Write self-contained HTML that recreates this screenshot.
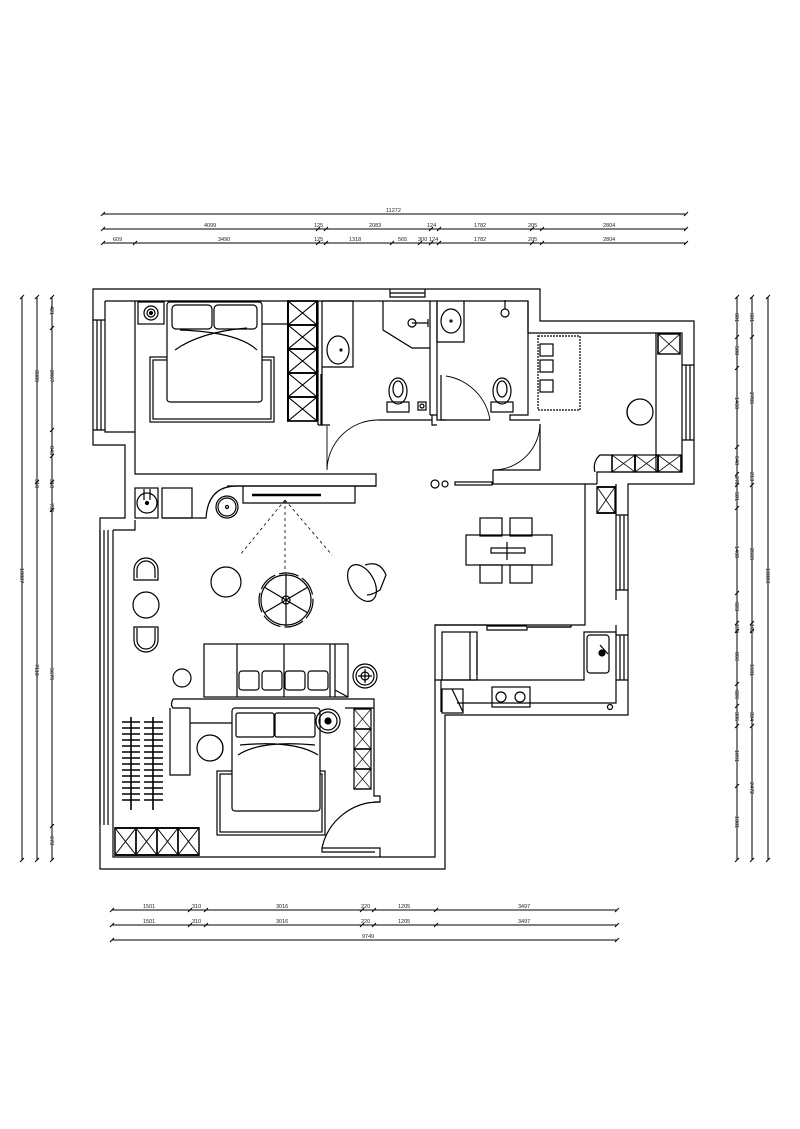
<!DOCTYPE html>
<html><head><meta charset="utf-8"><style>
html,body{margin:0;padding:0;background:#fff}
svg{display:block}
text{font-family:"Liberation Sans",sans-serif;font-size:5.5px;fill:#222}
</style></head><body>
<svg width="800" height="1129" viewBox="0 0 800 1129" xmlns="http://www.w3.org/2000/svg">
<defs>
<g id="xb"><rect x="0" y="0" width="20" height="20" fill="none" stroke="#000" stroke-width="1.4"/><path d="M0 0L20 20M20 0L0 20" stroke="#000" stroke-width="0.8"/></g>
</defs>
<g stroke="#000" fill="none" stroke-width="1">
<path d="M103 214H686M103 229H686M103 243H686"/>
<path d="M101 216l4-4M684 216l4-4M101 231l4-4M316 231l4-4M324 231l4-4M429 231l4-4M437 231l4-4M530 231l4-4M540 231l4-4M684 231l4-4M101 245l4-4M133 245l4-4M316 245l4-4M324 245l4-4M390 245l4-4M418 245l4-4M429 245l4-4M437 245l4-4M530 245l4-4M540 245l4-4M684 245l4-4"/>
<path d="M22 297V860M37 297V860M52 297V860"/>
<path d="M20 299l4-4M20 862l4-4M35 299l4-4M35 484l4-4M35 862l4-4M50 299l4-4M50 330l4-4M50 432l4-4M50 458l4-4M50 484l4-4M50 512l4-4M50 828l4-4M50 862l4-4"/>
<path d="M737 297V860M752 297V860M768 297V860"/>
<path d="M735 299l4-4M735 339l4-4M735 370l4-4M735 449l4-4M735 476l4-4M735 487l4-4M735 510l4-4M735 595l4-4M735 625l4-4M735 633l4-4M735 686l4-4M735 708l4-4M735 728l4-4M735 788l4-4M735 862l4-4M750 299l4-4M750 339l4-4M750 487l4-4M750 625l4-4M750 633l4-4M750 728l4-4M750 862l4-4M766 299l4-4M766 862l4-4"/>
<path d="M112 910H617M112 925H617M112 940H617"/>
<path d="M110 912l4-4M188 912l4-4M204 912l4-4M360 912l4-4M372 912l4-4M434 912l4-4M615 912l4-4M110 927l4-4M188 927l4-4M204 927l4-4M360 927l4-4M372 927l4-4M434 927l4-4M615 927l4-4M110 942l4-4M615 942l4-4"/>
</g>
<g>
<text x="386" y="212">11272</text>
<text x="204" y="227">4099</text><text x="314" y="227">125</text><text x="369" y="227">2083</text><text x="427" y="227">124</text><text x="474" y="227">1782</text><text x="528" y="227">205</text><text x="603" y="227">2804</text>
<text x="113" y="241">609</text><text x="218" y="241">3490</text><text x="314" y="241">125</text><text x="349" y="241">1318</text><text x="398" y="241">565</text><text x="418" y="241">300</text><text x="429" y="241">124</text><text x="474" y="241">1782</text><text x="528" y="241">205</text><text x="603" y="241">2804</text>
<text x="143" y="908">1501</text><text x="192" y="908">310</text><text x="276" y="908">3016</text><text x="361" y="908">220</text><text x="398" y="908">1205</text><text x="518" y="908">3497</text>
<text x="143" y="923">1501</text><text x="192" y="923">310</text><text x="276" y="923">3016</text><text x="361" y="923">220</text><text x="398" y="923">1205</text><text x="518" y="923">3497</text>
<text x="362" y="938">9749</text>
<g transform="translate(50,0)"><text transform="translate(0,306) rotate(90)">421</text><text transform="translate(0,370) rotate(90)">2067</text><text transform="translate(0,446) rotate(90)">843</text><text transform="translate(0,479) rotate(90)">318</text><text transform="translate(0,503) rotate(90)">758</text><text transform="translate(0,668) rotate(90)">5679</text><text transform="translate(0,836) rotate(90)">673</text></g>
<g transform="translate(35,0)"><text transform="translate(0,370) rotate(90)">3389</text><text transform="translate(0,479) rotate(90)">318</text><text transform="translate(0,664) rotate(90)">7110</text></g>
<g transform="translate(20,0)"><text transform="translate(0,568) rotate(90)">10887</text></g>
<g transform="translate(735,0)"><text transform="translate(0,313) rotate(90)">681</text><text transform="translate(0,346) rotate(90)">508</text><text transform="translate(0,397) rotate(90)">1460</text><text transform="translate(0,456) rotate(90)">648</text><text transform="translate(0,476) rotate(90)">272</text><text transform="translate(0,492) rotate(90)">501</text><text transform="translate(0,546) rotate(90)">1468</text><text transform="translate(0,602) rotate(90)">623</text><text transform="translate(0,624) rotate(90)">150</text><text transform="translate(0,652) rotate(90)">866</text><text transform="translate(0,690) rotate(90)">626</text><text transform="translate(0,712) rotate(90)">336</text><text transform="translate(0,750) rotate(90)">1091</text><text transform="translate(0,816) rotate(90)">1381</text></g>
<g transform="translate(750,0)"><text transform="translate(0,313) rotate(90)">681</text><text transform="translate(0,392) rotate(90)">2706</text><text transform="translate(0,472) rotate(90)">213</text><text transform="translate(0,548) rotate(90)">2669</text><text transform="translate(0,624) rotate(90)">165</text><text transform="translate(0,664) rotate(90)">1601</text><text transform="translate(0,712) rotate(90)">334</text><text transform="translate(0,782) rotate(90)">2472</text></g>
<g transform="translate(766,0)"><text transform="translate(0,568) rotate(90)">10803</text></g>
</g>

<g stroke="#000" fill="none" stroke-width="1.2">
<path d="M93 289H540V321H694V484H628V715H445V869H100V518H125V445H93Z"/>
<path d="M105 301H528V333H682V472H597V484"/>
<path d="M135 301V474H376V486H227"/>
<path d="M105 301V432H135"/>
<path d="M113 530V857H435V625H585V484"/>
<path d="M616 484V600M616 625V703H457"/>
<path d="M113 530H135V520"/>
<path d="M93 320H105M93 430H105M97 320V430M101 320V430"/>
<path d="M100 530V825M104 530V825M108 530V825"/>
<path d="M390 289V297H425V289M390 293H425"/>
<path d="M682 365H694M682 440H694M686 365V440M690 365V440"/>
<path d="M616 515H628M616 590H628M620 515V590M624 515V590"/>
<path d="M616 635H628M616 680H628M620 635V680M624 680V635"/>
<path d="M318 301V425M322 301V425M318 425H322"/>
<path d="M322 301H353V367H322"/>
<path d="M383 301V330L412 348H430"/>
<path d="M430 301V415M437 301V415M430 415H437"/>
<path d="M437 301V342H464V301"/>
<path d="M322 425H330M378 420H432V415M437 415V420H490"/>
<path d="M528 301V415H510V420H540"/>
<path d="M432 420V425H437"/>
<path d="M327 426V470M327 470A51 51 0 0 1 378 420" stroke-width="0.9"/>
<path d="M321 374V425"/>
<path d="M441 375V420H446"/>
<path d="M446 376A53 53 0 0 1 490 420" stroke-width="0.9"/>
<path d="M493 470H540V424"/>
<path d="M493 470A47 47 0 0 0 540 424" stroke-width="0.9"/>
<path d="M493 470V484H597"/>
<ellipse cx="338" cy="350" rx="11" ry="14"/>
<circle cx="341" cy="350" r="1"/>
<ellipse cx="398" cy="391" rx="9" ry="13"/><ellipse cx="398" cy="389" rx="5" ry="8"/>
<rect x="387" y="402" width="22" height="10"/>
<rect x="418" y="402" width="8" height="8"/><circle cx="422" cy="406" r="2"/>
<circle cx="412" cy="323" r="4"/><path d="M412 323H428M428 319V327"/>
<ellipse cx="451" cy="321" rx="10" ry="12"/><circle cx="451" cy="321" r="1"/>
<circle cx="505" cy="313" r="4"/><path d="M505 300V309"/>
<ellipse cx="502" cy="391" rx="9" ry="13"/><ellipse cx="502" cy="389" rx="5" ry="8"/>
<rect x="491" y="402" width="22" height="10"/>
<rect x="138" y="302" width="26" height="22"/><circle cx="151" cy="313" r="7"/><circle cx="151" cy="313" r="4"/><circle cx="151" cy="313" r="1.5" fill="#000"/>
<rect x="150" y="357" width="124" height="65"/><rect x="153" y="360" width="118" height="59"/>
<rect x="167" y="302" width="95" height="100" rx="3" fill="#fff"/>
<path d="M167 301H262"/>
<rect x="172" y="305" width="40" height="24" rx="4"/><rect x="214" y="305" width="43" height="24" rx="4"/>
<path d="M175 350Q200 332 247 328M257 350Q238 332 180 330"/>
<path d="M262 324H288"/>
<g transform="translate(288,301) scale(1.45,1.2)"><use href="#xb"/><use href="#xb" y="20"/><use href="#xb" y="40"/><use href="#xb" y="60"/><use href="#xb" y="80"/></g>
<rect x="538" y="336" width="42" height="74" stroke-dasharray="2 1"/>
<rect x="540" y="344" width="13" height="12"/><rect x="540" y="360" width="13" height="12"/><rect x="540" y="380" width="13" height="12"/>
<circle cx="640" cy="412" r="13"/><path d="M635 400A13 13 0 0 0 635 424"/>
<path d="M656 333V472"/>
<g transform="translate(658,334)"><use href="#xb" transform="scale(1.1,1)"/></g>
<g transform="translate(612,455)"><use href="#xb" transform="scale(1.15,0.85)"/></g>
<g transform="translate(635,455)"><use href="#xb" transform="scale(1.15,0.85)"/></g>
<g transform="translate(658,455)"><use href="#xb" transform="scale(1.15,0.85)"/></g>
<path d="M612 455H600A16 16 0 0 0 595 472"/>
<g transform="translate(597,487)"><use href="#xb" transform="scale(0.9,1.3)"/></g>
<circle cx="435" cy="484" r="4"/><circle cx="445" cy="484" r="3"/>
<rect x="455" y="482" width="37" height="3"/>
<rect x="135" y="488" width="23" height="30"/><circle cx="147" cy="503" r="10"/><circle cx="147" cy="503" r="1.5" fill="#000"/><path d="M144 489V500M150 489V500"/>
<rect x="162" y="488" width="30" height="30"/><path d="M163 518H191"/>
<path d="M192 518H206Q208 486 237 486H376"/>
<circle cx="227" cy="507" r="11"/><circle cx="227" cy="507" r="9"/><circle cx="227" cy="507" r="1.5"/>
<path d="M243 486V503H355V486"/>
<path d="M252 495H321" stroke-width="2.4"/>
<path d="M285 500L240 555M285 500V573M285 500L332 555" stroke-dasharray="3 3" stroke-width="0.8"/>
<circle cx="226" cy="582" r="15"/>
<circle cx="286" cy="600" r="25"/><circle cx="286" cy="600" r="27" stroke-dasharray="20 4"/><circle cx="286" cy="600" r="4"/>
<path d="M286 600L286 574M286 600L308 587M286 600L308 613M286 600L286 626M286 600L264 613M286 600L264 587"/>
<ellipse cx="362" cy="583" rx="12" ry="20" transform="rotate(-30 362 583)"/>
<path d="M365 565Q380 560 386 575L380 590Q372 595 367 595"/>
<path d="M134 580V570A12 12 0 0 1 158 570V580Z"/><path d="M137 578V570A9 9 0 0 1 155 570V578"/>
<circle cx="146" cy="605" r="13"/>
<path d="M134 627V640A12 12 0 0 0 158 640V627Z"/><path d="M137 628V640A9 9 0 0 0 155 640V628"/>
<rect x="204" y="644" width="144" height="53"/>
<path d="M237 644V697M284 644V697M330 644V697M335 644V697M335 690L348 697"/>
<rect x="239" y="671" width="20" height="19" rx="3"/><rect x="262" y="671" width="20" height="19" rx="3"/><rect x="285" y="671" width="20" height="19" rx="3"/><rect x="308" y="671" width="20" height="19" rx="3"/>
<circle cx="182" cy="678" r="9"/>
<circle cx="365" cy="676" r="12"/><circle cx="365" cy="676" r="9"/><circle cx="365" cy="676" r="4"/><path d="M358 676H372M365 669V683"/>
<path d="M173 699H374V710M173 699Q170 705 173 708H190"/>
<path d="M190 708V775H170V708"/>
<path d="M190 723H232"/>
<path d="M345 708H374"/>
<circle cx="210" cy="748" r="13"/><path d="M215 736A13 13 0 0 1 215 760"/>
<rect x="217" y="771" width="108" height="64"/><rect x="220" y="774" width="102" height="58"/>
<rect x="232" y="708" width="88" height="103" rx="3" fill="#fff"/>
<rect x="236" y="713" width="38" height="24" rx="2"/><rect x="275" y="713" width="40" height="24" rx="2"/>
<path d="M238 755Q260 740 315 745M318 755Q295 740 240 745"/>
<circle cx="328" cy="721" r="12"/><circle cx="328" cy="721" r="9"/><circle cx="328" cy="721" r="3" fill="#000"/>
<path d="M374 710V796H380V802H374"/>
<g transform="translate(354,709)"><use href="#xb" transform="scale(0.85,1)"/><use href="#xb" y="20" transform="scale(0.85,1)"/><use href="#xb" y="40" transform="scale(0.85,1)"/><use href="#xb" y="60" transform="scale(0.85,1)"/></g>
<path d="M322 848H380V857M322 848V852H375"/>
<path d="M322 848A58 58 0 0 1 380 802"/>
<g transform="translate(115,828)"><use href="#xb" transform="scale(1.05,1.35)"/><use href="#xb" x="20" transform="scale(1.05,1.35)"/><use href="#xb" x="40" transform="scale(1.05,1.35)"/><use href="#xb" x="60" transform="scale(1.05,1.35)"/></g>
<g stroke-width="1.6">
<path d="M131 717V810M153 717V810"/>
<path d="M122 722H140M122 728H140M122 734H140M122 740H140M122 746H140M122 752H140M122 758H140M122 764H140M122 770H140M122 776H140M122 782H140M122 788H140M122 794H140M122 800H140M144 722H163M144 728H163M144 734H163M144 740H163M144 746H163M144 752H163M144 758H163M144 764H163M144 770H163M144 776H163M144 782H163M144 788H163M144 794H163M144 800H163"/>
</g>
<rect x="466" y="535" width="86" height="30"/>
<rect x="491" y="548" width="34" height="5"/><path d="M507 542V560"/>
<rect x="480" y="518" width="22" height="18"/><rect x="510" y="518" width="22" height="18"/>
<rect x="480" y="565" width="22" height="18"/><rect x="510" y="565" width="22" height="18"/>
<path d="M435 625H487V630H527V627H571V625"/>
<path d="M487 626H527M527 627H571"/>
<rect x="442" y="632" width="35" height="48"/><path d="M470 632V680M477 640V675"/>
<path d="M435 680H584V632H616"/>
<path d="M441 680V712"/>
<rect x="587" y="635" width="22" height="38" rx="3"/><circle cx="602" cy="653" r="3" fill="#000"/><path d="M600 645L608 654"/>
<rect x="442" y="689" width="21" height="24"/><path d="M452 689L463 712"/>
<rect x="492" y="687" width="38" height="20"/><circle cx="501" cy="697" r="5"/><circle cx="520" cy="697" r="5"/>
<circle cx="610" cy="707" r="2.5"/>
</g>
</svg>
</body></html>
